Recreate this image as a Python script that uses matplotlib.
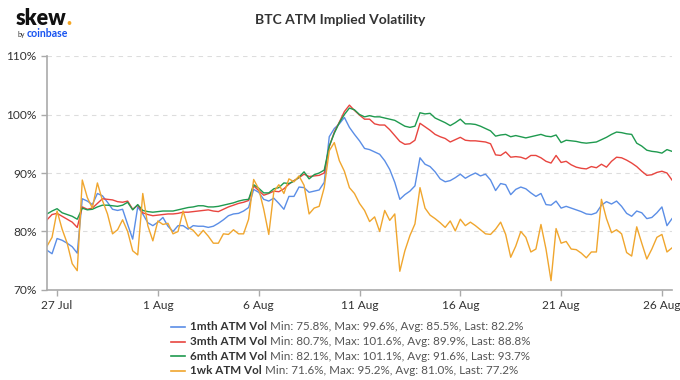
import pandas as pd
import matplotlib
matplotlib.use("Agg")
import matplotlib.pyplot as plt
from matplotlib.lines import Line2D

plt.rcParams['font.family'] = ['Lato', 'DejaVu Sans']

# 6-hourly samples, 26 Jul 12:00 -> 26 Aug 12:00
start = "2021-07-26 12:00"

vol_1mth = [76.8, 76.2, 78.8, 78.5, 78.0, 77.4, 76.3, 85.6, 85.2, 84.6,
            86.5, 86.1, 85.0, 83.8, 83.6, 83.8, 81.2, 78.7, 84.2, 83.0,
            81.5, 81.0, 81.6, 82.4, 80.9, 80.0, 81.0, 81.0, 80.4, 81.0,
            80.9, 80.9, 80.7, 80.9, 81.4, 82.0, 82.7, 83.0, 83.1, 83.5,
            84.1, 87.2, 86.7, 85.5, 85.2, 85.7, 84.8, 83.8, 86.0, 86.0,
            87.6, 87.5, 86.7, 86.9, 87.1, 88.4, 96.2, 97.6, 98.4, 99.5,
            97.8, 96.6, 95.5, 94.2, 94.0, 93.6, 93.2, 92.1, 90.6, 88.4,
            85.5, 86.3, 86.9, 87.8, 92.6, 91.5, 91.1, 90.2, 89.0, 88.5,
            88.7, 89.2, 89.8, 89.1, 89.6, 90.0, 89.5, 89.8, 88.8, 87.0,
            88.2, 88.0, 86.3, 87.2, 87.6, 87.3, 86.6, 86.0, 86.5, 84.6,
            84.5, 85.2, 84.0, 84.3, 84.0, 83.7, 83.4, 83.0, 82.9, 83.2,
            84.5, 85.1, 84.7, 85.2, 84.3, 83.1, 82.6, 83.5, 83.2, 82.2,
            82.4, 83.2, 84.2, 81.0, 82.2]

vol_3mth = [82.0, 82.9, 83.1, 82.6, 82.1, 81.6, 80.7, 84.2, 83.8, 84.0,
            84.8, 85.6, 85.5, 85.4, 85.1, 85.0, 85.2, 83.8, 84.5, 83.2,
            82.9, 82.7, 82.8, 82.9, 83.0, 83.0, 83.1, 83.3, 83.3, 83.4,
            83.5, 83.6, 83.7, 83.5, 83.4, 83.8, 84.2, 84.5, 84.8, 85.0,
            85.3, 87.8, 87.0, 86.2, 86.5, 86.9, 86.8, 87.3, 88.1, 88.7,
            89.2, 89.8, 89.4, 89.5, 89.6, 90.0, 94.5, 97.0, 98.7, 100.5,
            101.6, 100.7, 99.9, 99.2, 99.2, 98.4, 98.2, 98.2, 97.4, 96.4,
            95.4, 94.9, 95.0, 95.6, 98.5, 97.9, 97.3, 96.6, 96.2, 95.9,
            95.3, 95.7, 96.1, 95.6, 95.5, 95.5, 95.4, 95.3, 95.0, 93.1,
            93.0, 93.6, 92.7, 92.8, 92.7, 92.4, 93.0, 93.0, 92.6, 92.0,
            91.7, 93.0, 91.8, 92.0, 91.4, 91.0, 90.8, 90.7, 91.1, 90.9,
            91.5, 91.0, 92.0, 92.7, 92.6, 92.2, 91.7, 91.1, 90.3, 89.6,
            89.7, 90.1, 90.3, 90.0, 88.8]

vol_6mth = [83.0, 83.5, 83.9, 83.2, 82.9, 82.6, 82.1, 84.0, 83.7, 83.8,
            84.2, 84.5, 84.5, 84.4, 84.3, 84.5, 85.0, 83.7, 84.6, 83.6,
            83.4, 83.3, 83.4, 83.5, 83.5, 83.5, 83.7, 83.9, 84.1, 84.2,
            84.4, 84.4, 84.2, 84.2, 84.3, 84.5, 84.7, 84.9, 85.2, 85.4,
            85.5, 88.0, 87.4, 86.6, 86.6, 87.3, 87.5, 88.3, 88.2, 88.6,
            89.3, 90.2, 89.0, 89.7, 90.0, 90.5, 94.6, 96.8, 98.6, 100.0,
            101.1, 100.8, 100.0, 99.6, 99.8, 99.6, 99.6, 99.4, 99.2, 99.0,
            98.5, 98.0, 97.8, 98.0, 100.3, 100.1, 100.2, 99.4, 99.0, 98.6,
            98.1, 98.6, 99.2, 98.4, 98.4, 98.3, 98.0, 97.6, 97.2, 96.3,
            96.5, 96.6, 96.2, 96.4, 96.2, 96.0, 96.2, 96.4, 96.6, 96.3,
            96.2, 96.5, 95.2, 95.6, 95.5, 95.4, 95.2, 95.1, 95.2, 95.3,
            95.7, 96.1, 96.6, 97.0, 96.9, 96.7, 96.6, 95.1, 94.6, 93.9,
            93.7, 93.6, 93.4, 94.0, 93.7]

vol_1wk = [77.5, 79.0, 83.5, 80.4, 78.0, 74.5, 73.3, 88.8, 85.8, 84.0,
           88.3, 85.3, 83.0, 79.6, 80.3, 82.0, 80.0, 76.7, 76.0, 86.5,
           81.0, 78.4, 81.8, 81.2, 81.4, 79.6, 80.0, 83.5, 80.7, 80.2,
           79.2, 80.2, 79.2, 78.0, 78.0, 79.6, 79.5, 80.3, 79.6, 79.6,
           82.1, 88.9, 87.3, 83.8, 79.5, 86.8, 88.0, 86.5, 89.0, 88.5,
           89.5, 87.9, 83.0, 84.0, 84.3, 87.5, 93.8, 95.2, 92.1, 90.3,
           87.5, 86.5, 84.8, 83.6, 81.7, 82.5, 80.0, 83.6, 81.9, 83.0,
           73.2, 76.7, 79.3, 81.3, 87.5, 84.0, 82.8, 82.2, 81.5, 80.7,
           81.8, 80.1, 82.1, 81.0, 81.6, 81.0, 80.3, 79.6, 79.5, 80.4,
           81.6, 79.5, 75.6, 77.5, 80.0, 79.0, 76.5, 77.0, 81.2, 77.0,
           71.6, 80.5, 78.0, 78.3, 77.0, 76.9, 76.3, 75.5, 76.5, 76.5,
           85.5, 82.2, 79.8, 80.3, 79.6, 76.4, 75.8, 80.8, 78.0, 75.3,
           77.0, 79.0, 79.5, 76.5, 77.2]

series_names = ["1mth ATM Vol", "3mth ATM Vol", "6mth ATM Vol", "1wk ATM Vol"]
series_colors = ["#5b8ee6", "#e8453f", "#1f9a4f", "#f0a62e"]
stat_min = ["75.8%", "80.7%", "82.1%", "71.6%"]
stat_max = ["99.6%", "101.6%", "101.1%", "95.2%"]
stat_avg = ["85.5%", "89.9%", "91.6%", "81.0%"]
stat_last = ["82.2%", "88.8%", "93.7%", "77.2%"]

x_tick_dates = ["2021-07-27", "2021-08-01", "2021-08-06", "2021-08-11",
                "2021-08-16", "2021-08-21", "2021-08-26"]
x_tick_labels = ["27 Jul", "1 Aug", "6 Aug", "11 Aug", "16 Aug", "21 Aug", "26 Aug"]
y_ticks = [70, 80, 90, 100, 110]
y_tick_labels = ["70%", "80%", "90%", "100%", "110%"]

W, H = 680, 380
fig = plt.figure(figsize=(W / 100, H / 100), dpi=100)
ax = fig.add_axes([47 / W, 1 - 290 / H, (672 - 47) / W, (290 - 56) / H])

times = pd.date_range(start, periods=len(vol_1mth), freq="6h")
for vals, color in zip([vol_1mth, vol_3mth, vol_6mth, vol_1wk], series_colors):
    ax.plot(times, vals, color=color, lw=1.0)

ax.set_xlim(times[0], times[-1])
ax.set_ylim(70, 110)
ax.set_yticks(y_ticks)
ax.set_yticklabels(y_tick_labels)
ax.set_xticks(pd.to_datetime(x_tick_dates))
ax.set_xticklabels(x_tick_labels)
ax.tick_params(axis='both', colors='#aaaaaa', labelcolor='#333333', labelsize=8.6,
               length=4, width=1)
ax.tick_params(axis='x', pad=3)
ax.grid(axis='y', color='#dddddd', linestyle=(0, (4, 4)), lw=0.8)
ax.set_axisbelow(True)
for s in ['top', 'right']:
    ax.spines[s].set_visible(False)
for s in ['left', 'bottom']:
    ax.spines[s].set_color('#aaaaaa')
    ax.spines[s].set_linewidth(1.2)

fig.text(340 / W, 1 - 20 / H, "BTC ATM Implied Volatility", ha='center', va='center',
         fontsize=10, fontweight='bold', color='#333333')

# logo
fig.canvas.draw()
renderer = fig.canvas.get_renderer()
logo = fig.text(16 / W, 1 - 25 / H, "skew", fontsize=15.5, fontweight='heavy',
                color='#111111', va='baseline')
bb = logo.get_window_extent(renderer)
fig.text(bb.x1 / W, 1 - 25 / H, ".", fontsize=15.5, fontweight='heavy',
         color='#f5a623', va='baseline')
by = fig.text(17 / W, 1 - 37 / H, "by", fontsize=5, color='#333333', va='baseline')
bb = by.get_window_extent(renderer)
fig.text(bb.x1 / W + 2 / W, 1 - 37 / H, "coinbase", fontsize=7.6, fontweight='bold',
         color='#1652f0', va='baseline')

# legend
for i, name in enumerate(series_names):
    y = 1 - (327 + i * 14.5) / H
    fig.add_artist(Line2D([171 / W, 185 / W], [y, y], color=series_colors[i], lw=1.2))
    t = fig.text(190 / W, y, name, fontsize=8.4, fontweight='bold', color='#333333',
                 va='center')
    bb = t.get_window_extent(renderer)
    stats = (f"Min: {stat_min[i]}, Max: {stat_max[i]}, "
             f"Avg: {stat_avg[i]}, Last: {stat_last[i]}")
    fig.text(bb.x1 / W + 3 / W, y, stats, fontsize=8.4, color='#555555', va='center')

fig.savefig("out.png", dpi=100)
